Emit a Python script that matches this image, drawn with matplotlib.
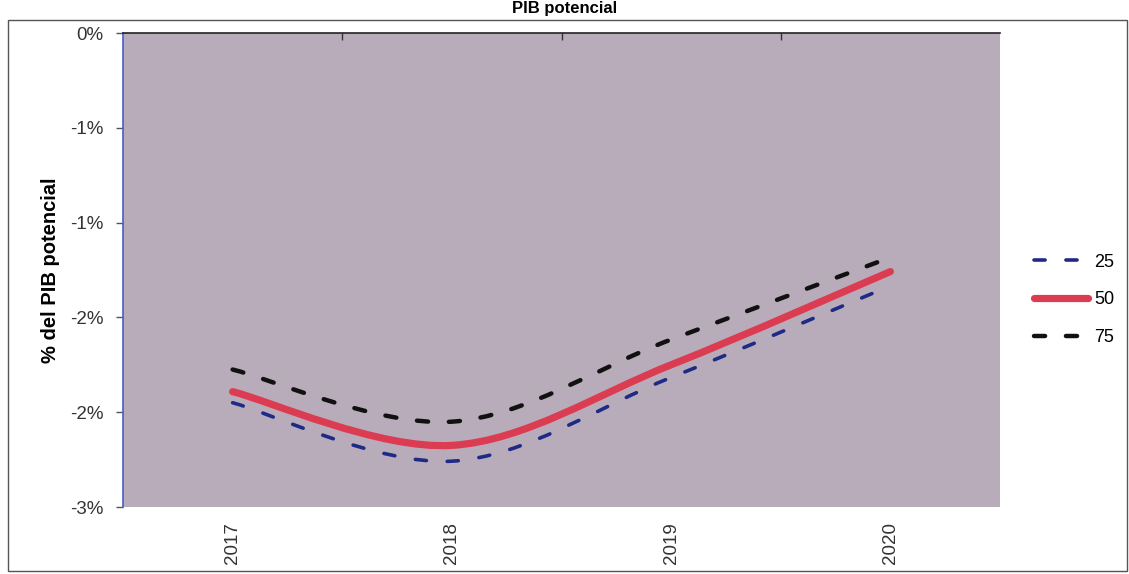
import matplotlib
matplotlib.use("Agg")
import matplotlib.pyplot as plt
from matplotlib.path import Path
from matplotlib.patches import PathPatch, Rectangle
from matplotlib.lines import Line2D
import numpy as np

plt.rcParams['font.family'] = ['Liberation Sans', 'DejaVu Sans']
plt.rcParams['lines.scale_dashes'] = False

years = ["2017", "2018", "2019", "2020"]
p25 = [-2.34, -2.71, -2.18, -1.60]
p50 = [-2.27, -2.61, -2.10, -1.51]
p75 = [-2.13, -2.46, -1.94, -1.42]
yticks = [0.0, -0.6, -1.2, -1.8, -2.4, -3.0]
ytick_labels = ["0%", "-1%", "-1%", "-2%", "-2%", "-3%"]
series_labels = ["25", "50", "75"]

W, H = 1129, 574
fig = plt.figure(figsize=(W / 100, H / 100), dpi=100)
fig.patch.set_facecolor('white')

# outer chart border
fig.add_artist(Rectangle((8 / W, 1 - 571 / H), (1127 - 8) / W, (571 - 20) / H,
                         transform=fig.transFigure, fill=False, edgecolor='#555555',
                         linewidth=1.0))

ax = fig.add_axes([123 / W, 1 - 507 / H, (1000 - 123) / W, (507 - 33) / H])
ax.set_facecolor('#b9acba')
ax.set_xlim(-0.5, 3.5)
ax.set_ylim(-3.0, 0.0)


def smooth_path(xs, ys):
    pts = np.column_stack([xs, ys])
    n = len(pts)
    verts = [pts[0]]
    codes = [Path.MOVETO]
    for i in range(n - 1):
        p0 = pts[max(i - 1, 0)]
        p1 = pts[i]
        p2 = pts[i + 1]
        p3 = pts[min(i + 2, n - 1)]
        c1 = p1 + (p2 - p0) / 6.0
        c2 = p2 - (p3 - p1) / 6.0
        verts += [c1, c2, p2]
        codes += [Path.CURVE4] * 3
    return Path(verts, codes)


xs = np.arange(len(years))
styles = [
    dict(color='#1f2a86', lw=2.6, ls=(0, (8, 15)), cap='round'),
    dict(color='#dc3c52', lw=5.2, ls='-', cap='round'),
    dict(color='#111111', lw=3.2, ls=(0, (8, 15)), cap='round'),
]
handles = []
for vals, st, lab in zip([p25, p50, p75], styles, series_labels):
    patch = PathPatch(smooth_path(xs, vals), fill=False, edgecolor=st['color'],
                      linewidth=st['lw'], linestyle=st['ls'], capstyle=st['cap'],
                      joinstyle='round', zorder=3)
    ax.add_patch(patch)
    handles.append(Line2D([], [], color=st['color'], lw=st['lw'], ls=st['ls'],
                          solid_capstyle='round', dash_capstyle='round', label=lab))

# y axis
ax.set_yticks(yticks)
ax.set_yticklabels(ytick_labels, fontsize=13.5, color='#333333')
ax.tick_params(axis='y', direction='out', length=5, width=1, color='#555555', pad=9)
ax.set_ylabel("% del PIB potencial", fontsize=14.5, fontweight='bold', labelpad=7)

# x axis labels at bottom, tick marks at category boundaries on top line
ax.set_xticks(xs)
ax.set_xticklabels(years, rotation=90, fontsize=13.5, color='#333333')
ax.tick_params(axis='x', which='major', length=0, pad=11)
ax.set_xticks([0.5, 1.5, 2.5], minor=True)
ax.tick_params(axis='x', which='minor', top=True, bottom=False, direction='in',
               length=5, width=1, color='#333333')

for s in ['right', 'bottom']:
    ax.spines[s].set_visible(False)
ax.spines['left'].set_color('#4a5ccc')
ax.spines['left'].set_linewidth(1.2)
ax.spines['top'].set_color('#222222')
ax.spines['top'].set_linewidth(1.2)

fig.legend(handles=handles, loc='center left', bbox_to_anchor=(1018 / W, 1 - 300 / H),
           frameon=False, fontsize=13, handlelength=3.0, labelspacing=1.15,
           handletextpad=0.3)

fig.text(565 / W, 1 - 1 / H, "PIB potencial", ha='center', va='top',
         fontsize=12, fontweight='bold')

fig.savefig("out.png", dpi=100)
